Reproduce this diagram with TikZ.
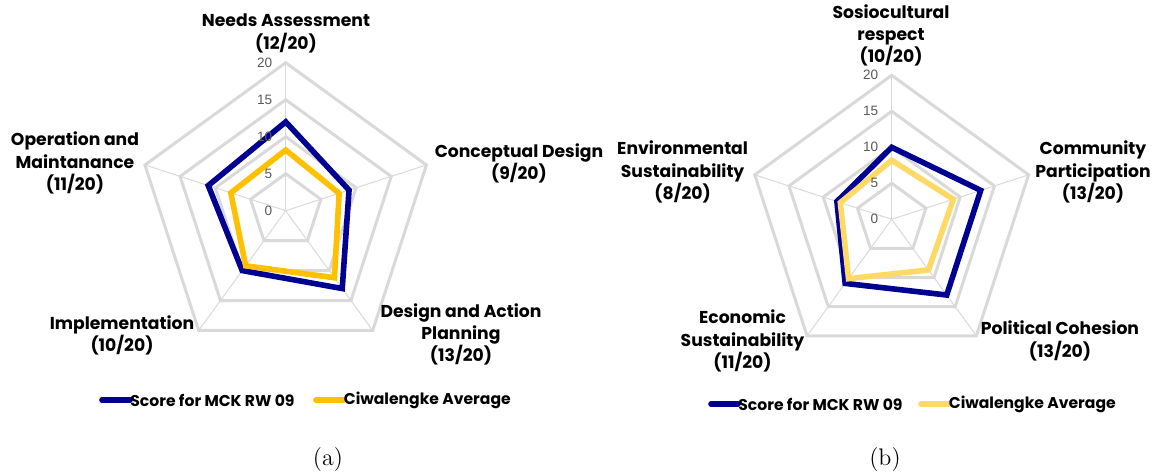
\documentclass[tikz,border=0pt]{standalone}
\usepackage{fontspec}
\usepackage{xcolor}
\usepackage{tikz}
\usetikzlibrary{positioning}

\newfontfamily\lblfont{Poppins}
\newfontfamily\tickfont{Liberation Sans}

\definecolor{scoreblue}{RGB}{0,0,145}
\definecolor{avgyellow}{RGB}{255,192,0}
\definecolor{avglight}{RGB}{255,217,102}
\definecolor{webgray}{RGB}{217,217,217}

\tikzset{
  webline/.style={draw=webgray,line width=1.5pt},
  spoke/.style={draw=webgray,line width=0.5pt},
  scoreline/.style={draw=scoreblue,line width=2.8pt},
  avgline/.style={line width=2.8pt},
  axislbl/.style={font=\lblfont\bfseries\fontsize{8.6}{11.2}\selectfont,align=center,inner sep=0pt},
  ticklbl/.style={font=\tickfont\fontsize{6.8}{7}\selectfont,text=black!65,anchor=east,inner sep=0pt},
  keyline/.style={line width=2.8pt,line cap=round},
  keylbl/.style={font=\lblfont\bfseries\fontsize{7.8}{9}\selectfont,anchor=west,inner sep=0pt},
  caplbl/.style={font=\fontsize{12}{14}\selectfont,inner sep=0pt}
}

\begin{document}
\begin{tikzpicture}[x=0.5pt,y=-0.5pt]
  \useasboundingbox (0,0) rectangle (1153,472);

  % (a) planning stages
  \begin{scope}[shift={(285.7,210.7)}]
    \foreach \r in {37,74,111,148}
      \draw[webline] (-90:\r) -- (-18:\r) -- (54:\r) -- (126:\r) -- (198:\r) -- cycle;
    \foreach \a in {-90,-18,54,126,198}
      \draw[spoke] (0,0) -- (\a:148);
    \draw[scoreline] (-90:88.8) -- (-18:66.6) -- (54:96.2) -- (126:74) -- (198:81.4) -- cycle;
    \draw[avgline,draw=avgyellow] (-90:60.7) -- (-18:56.2) -- (54:82.9) -- (126:68.1) -- (198:57.7) -- cycle;
    \node[ticklbl] (ta0) at (-13,0) {0};
    \node[ticklbl] (ta5) at (-13,-37) {5};
    \node[ticklbl] (ta10) at (-13,-74) {10};
    \node[ticklbl] (ta15) at (-13,-111) {15};
    \node[ticklbl] (ta20) at (-13,-148) {20};
  \end{scope}

  \node[axislbl] (needs) at (286,33.5) {Needs Assessment\\(12/20)};
  \node[axislbl] (concept) at (519,163.5) {Conceptual Design\\(9/20)};
  \node[axislbl] (design) at (461,334.5) {Design and Action\\Planning\\(13/20)};
  \node[axislbl] (impl) at (122,335.5) {Implementation\\(10/20)};
  \node[axislbl] (oper) at (75,163) {Operation and\\Maintanance\\(11/20)};

  \coordinate (ka1) at (102,400);
  \coordinate (ka2) at (130,400);
  \coordinate (ka3) at (316,400);
  \coordinate (ka4) at (343.5,400);
  \draw[keyline,scoreblue] (ka1) -- (ka2);
  \draw[keyline,avgyellow] (ka3) -- (ka4);
  \node[keylbl,right=0pt of ka2] (keya1) {Score for MCK RW 09};
  \node[keylbl,right=0pt of ka4] (keya2) {Ciwalengke Average};
  \node[caplbl] (capa) at (328,460) {(a)};

  % (b) sustainability aspects
  \begin{scope}[shift={(891.7,219.3)}]
    \foreach \r in {36,72,108,144}
      \draw[webline] (-90:\r) -- (-18:\r) -- (54:\r) -- (126:\r) -- (198:\r) -- cycle;
    \foreach \a in {-90,-18,54,126,198}
      \draw[spoke] (0,0) -- (\a:144);
    \draw[scoreline] (-90:72) -- (-18:93.6) -- (54:93.6) -- (126:79.2) -- (198:57.6) -- cycle;
    \draw[avgline,draw=avglight] (-90:59) -- (-18:64.8) -- (54:62.6) -- (126:73.4) -- (198:54) -- cycle;
    \node[ticklbl] (tb0) at (-13,0) {0};
    \node[ticklbl] (tb5) at (-13,-36) {5};
    \node[ticklbl] (tb10) at (-13,-72) {10};
    \node[ticklbl] (tb15) at (-13,-108) {15};
    \node[ticklbl] (tb20) at (-13,-144) {20};
  \end{scope}

  \node[axislbl] (socio) at (891,35.5) {Sosiocultural\\respect\\(10/20)};
  \node[axislbl] (comm) at (1093,172) {Community\\Participation\\(13/20)};
  \node[axislbl] (polit) at (1060,341) {Political Cohesion\\(13/20)};
  \node[axislbl] (econ) at (742.5,341) {Economic\\Sustainability\\(11/20)};
  \node[axislbl] (envir) at (682.6,172) {Environmental\\Sustainability\\(8/20)};

  \coordinate (kb1) at (711,404);
  \coordinate (kb2) at (738,404);
  \coordinate (kb3) at (921,404);
  \coordinate (kb4) at (948.5,404);
  \draw[keyline,scoreblue] (kb1) -- (kb2);
  \draw[keyline,avglight] (kb3) -- (kb4);
  \node[keylbl,right=0pt of kb2] (keyb1) {Score for MCK RW 09};
  \node[keylbl,right=0pt of kb4] (keyb2) {Ciwalengke Average};
  \node[caplbl] (capb) at (885,460) {(b)};
\end{tikzpicture}
\end{document}
